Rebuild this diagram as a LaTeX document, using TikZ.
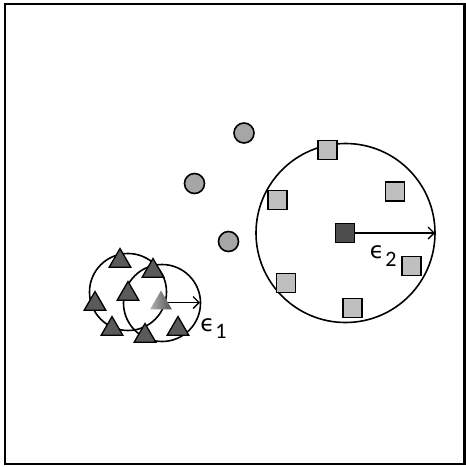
\documentclass[tikz,border=0pt]{standalone}
\usepackage{fontspec}
\setmainfont{Carlito}
\newfontfamily\epsfont{DejaVu Sans}
\usetikzlibrary{arrows.meta,shapes.geometric}
\definecolor{sqlight}{HTML}{BFBFBF}
\definecolor{sqdark}{HTML}{4D4D4D}
\definecolor{dotgray}{HTML}{A6A6A6}
\definecolor{trigray}{HTML}{5A5A5A}
\tikzset{
  sqbox/.style={draw=black, line width=1.6pt, fill=sqlight, minimum size=19pt, inner sep=0pt},
  sqcore/.style={sqbox, fill=sqdark},
  dotnode/.style={circle, draw=black, line width=1.6pt, fill=dotgray, minimum size=20pt, inner sep=0pt},
  trinode/.style={regular polygon, regular polygon sides=3, draw=black, line width=1.3pt, fill=trigray, minimum size=25pt, inner sep=0pt},
  ghostnode/.style={regular polygon, regular polygon sides=3, left color=black!30, right color=black!68, minimum size=25pt, inner sep=0pt},
  ring/.style={circle, draw=black, line width=1.6pt, inner sep=0pt},
  radarrow/.style={draw=black, line width=1.4pt, -{Straight Barb[length=6pt,width=12pt,line width=1.4pt]}},
  epsnode/.style={inner sep=0pt, font=\epsfont\fontsize{23}{23}\selectfont},
  subnode/.style={inner sep=0pt, font=\fontsize{22}{22}\selectfont}
}
\begin{document}
\begin{tikzpicture}[x=1pt,y=-1pt]
\useasboundingbox (0,0) rectangle (466,467);
\draw[line width=2.5pt] (5,4) rectangle (464.5,464);

% big cluster
\node[ring, minimum size=179pt] (bigc) at (345.5,233) {};
\node[sqbox] (s1) at (327.5,150) {};
\node[sqbox] (s2) at (277.5,200) {};
\node[sqbox] (s3) at (395,191.5) {};
\node[sqbox] (s4) at (411.5,266) {};
\node[sqbox] (s5) at (286,283) {};
\node[sqbox] (s6) at (352.5,308) {};
\node[sqcore] (core2) at (345,233) {};
\coordinate (e2end) at (435,233);
\draw[radarrow] (core2.east) -- (e2end);
\node[epsnode, anchor=base] (eps2) at (377,258.5) {ϵ};
\node[subnode] (sub2) at (391,259.5) {2};

% dots
\node[dotnode] (d1) at (244,133) {};
\node[dotnode] (d2) at (194.5,183.5) {};
\node[dotnode] (d3) at (228.5,241.5) {};

% small clusters
\node[ring, minimum size=77pt] (c1) at (128,292) {};
\node[ring, minimum size=77pt] (c2) at (162,303) {};
\node[trinode] (t1) at (120,261) {};
\node[trinode] (t2) at (153,271) {};
\node[trinode] (t3) at (128,294) {};
\node[trinode] (t4) at (95,304) {};
\node[trinode] (t5) at (112,329) {};
\node[trinode] (t6) at (145,336) {};
\node[trinode] (t7) at (178,329) {};
\node[ghostnode] (g1) at (161,303) {};
\coordinate (e1start) at (168,302.5);
\coordinate (e1end) at (200,302.5);
\draw[radarrow] (e1start) -- (e1end);
\node[epsnode, anchor=base] (eps1) at (207.5,331.5) {ϵ};
\node[subnode] (sub1) at (221,331) {1};
\end{tikzpicture}
\end{document}
